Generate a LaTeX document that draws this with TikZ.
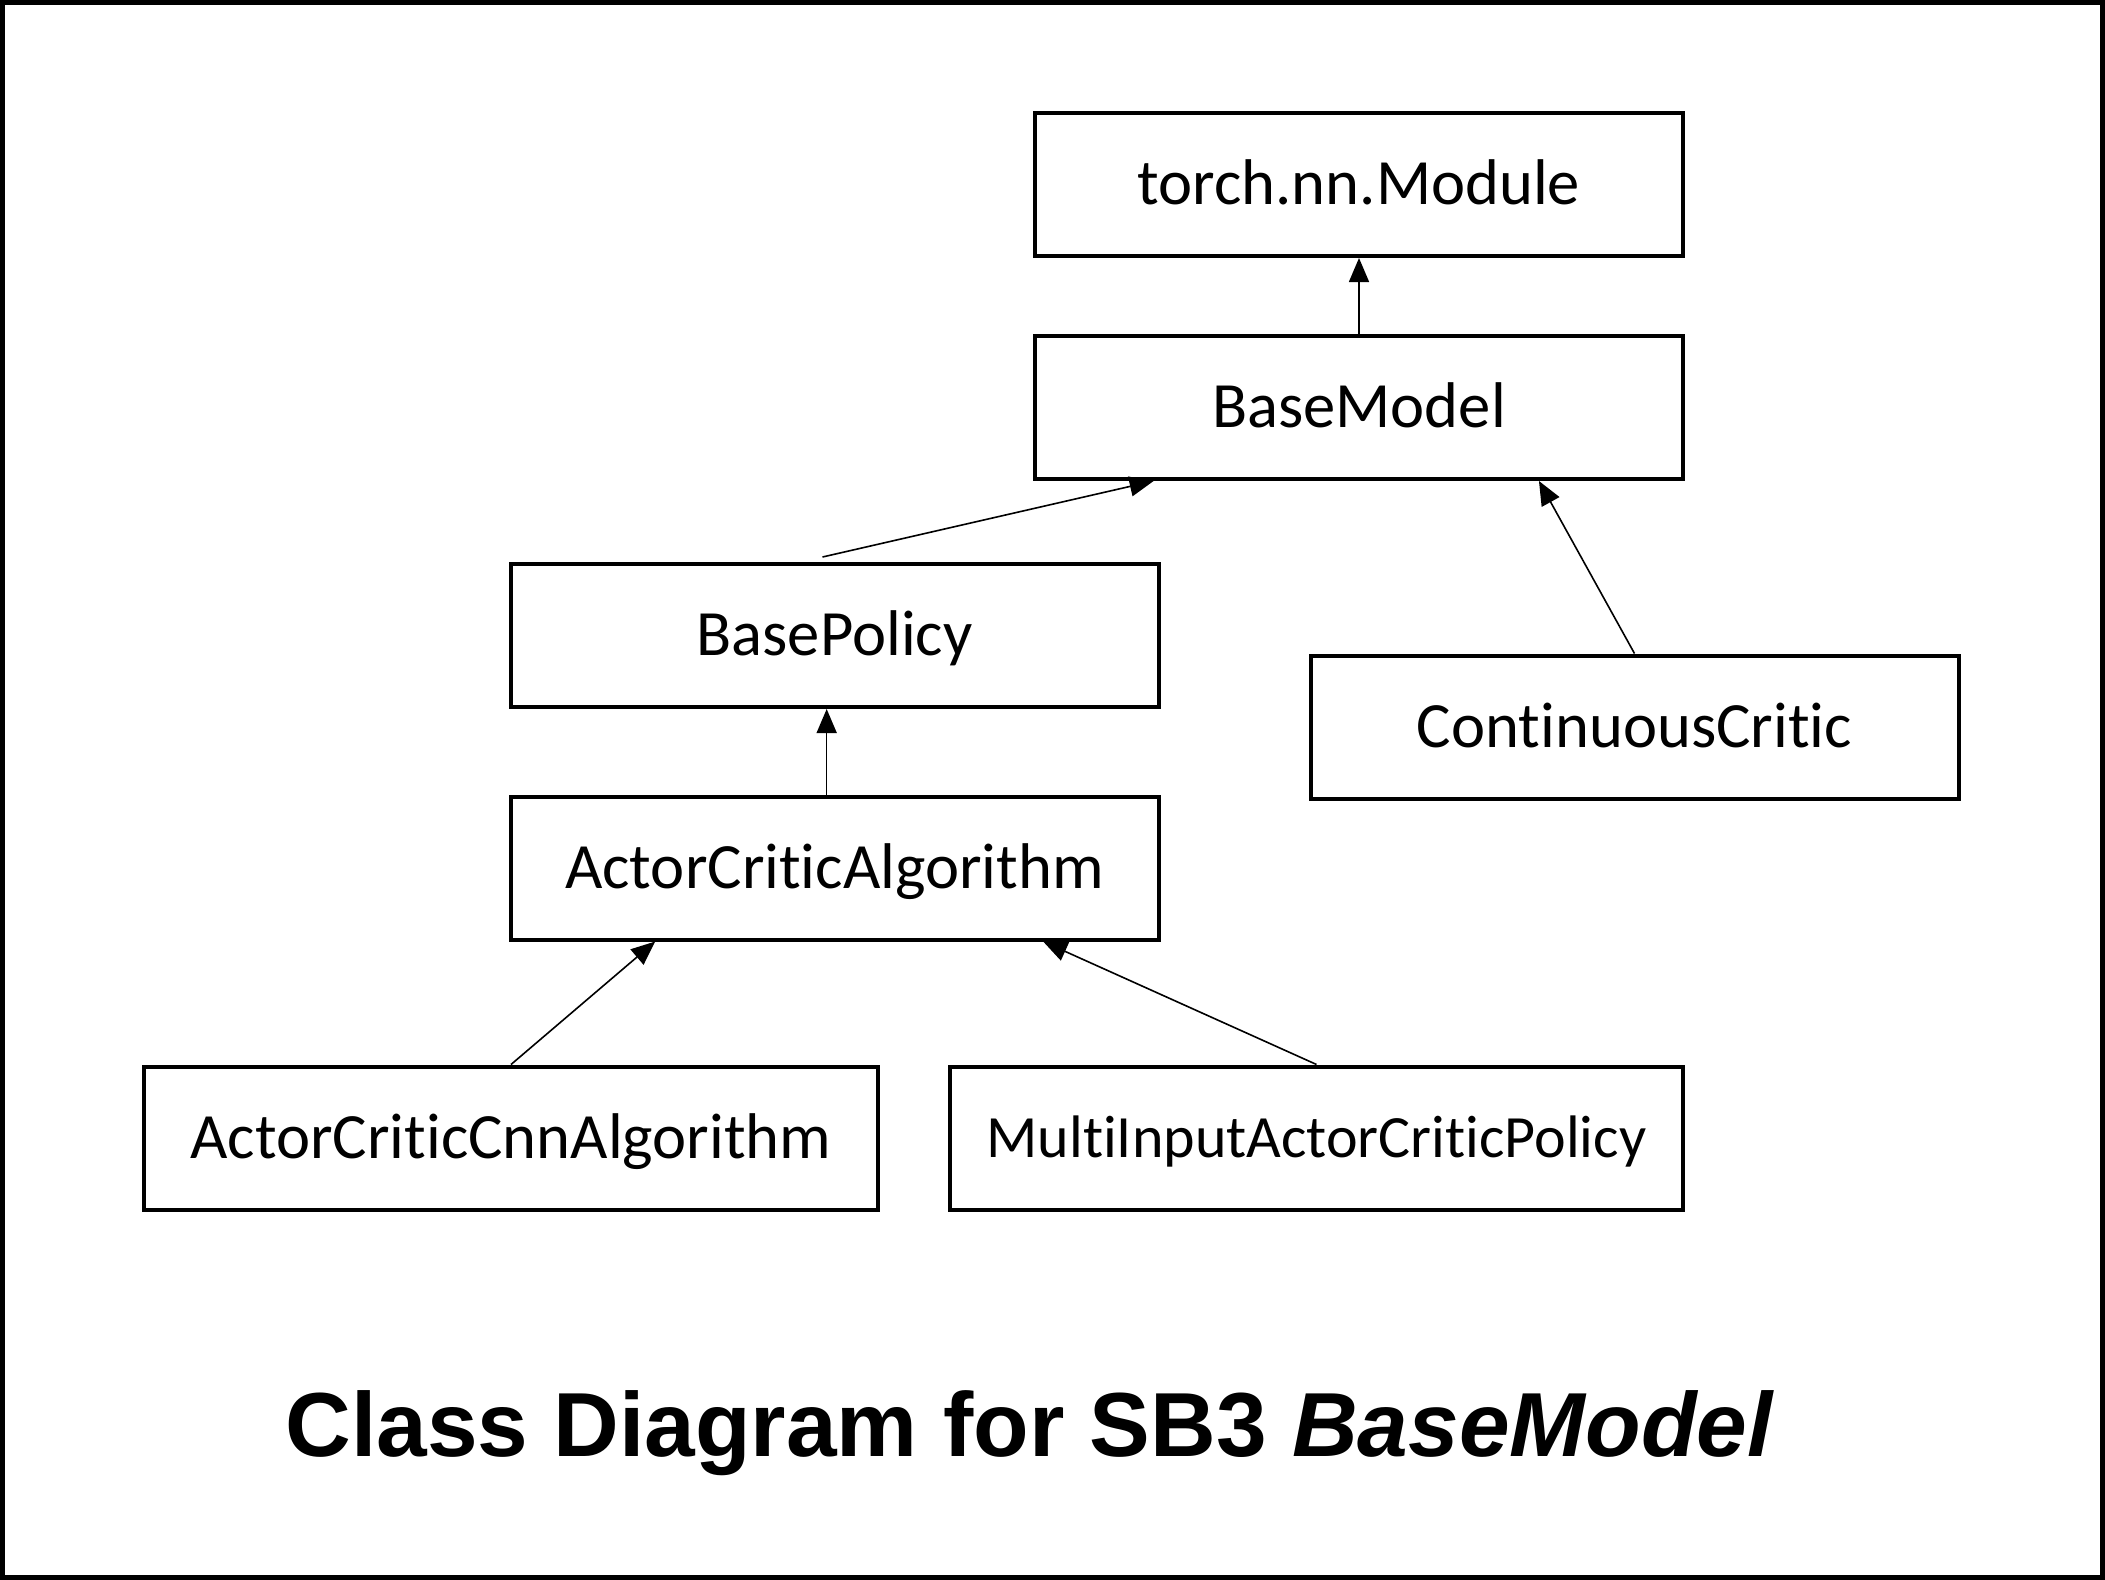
\documentclass[tikz,border=0pt]{standalone}
\usepackage{fontspec}
\setmainfont{Carlito}[RawFeature={-liga}]
\newfontfamily\titlefont{Liberation Sans}
\usetikzlibrary{arrows.meta,calc}
\tikzset{
  cls/.style={draw, line width=2pt, minimum width=324pt, minimum height=71.5pt, inner sep=0pt,
    text height=20.4pt, text depth=0pt, font=\fontsize{32.3}{38}\selectfont},
  inh/.style={line width=0.8pt, -{Triangle[length=12pt,width=10pt]}}
}
\begin{document}
\begin{tikzpicture}[x=0.5pt,y=-0.5pt]
\useasboundingbox (0,0) rectangle (2105,1580);
\draw[line width=2.5pt] (2.5,2.5) rectangle (2102.5,1577.5);
\node[cls] (torch) at (1359,184.5) {torch.nn.Module};
\node[cls] (bm) at (1359,407.5) {BaseModel};
\node[cls] (bp) at (834.5,635.5) {BasePolicy};
\node[cls] (cc) at (1634.5,727) {ContinuousCritic};
\node[cls] (aca) at (834.5,868) {ActorCriticAlgorithm};
\node[cls, minimum width=367pt] (acc) at (511,1138) {ActorCriticCnnAlgorithm};
\node[cls, minimum width=366.5pt, text height=19pt, font=\fontsize{30}{36}\selectfont] (mi) at (1316.5,1138) {MultiInputActorCriticPolicy};
\node[font=\titlefont\bfseries\fontsize{45.5}{52}\selectfont] (title) at (1030,1433)
  {Class Diagram for SB3 \textit{BaseModel}};
\draw[inh] (bm.north) -- (torch.south);
\draw[inh] ($(bp.north)+(-6pt,2.5pt)$) -- ($(bm.south west)!0.185!(bm.south east)$);
\draw[inh] (cc.north) -- ($(bm.south west)!0.776!(bm.south east)$);
\draw[inh] ($(aca.north west)!0.488!(aca.north east)$) -- ($(bp.south west)!0.488!(bp.south east)$);
\draw[inh] (acc.north) -- ($(aca.south west)!0.225!(aca.south east)$);
\draw[inh] (mi.north) -- ($(aca.south west)!0.82!(aca.south east)$);
\end{tikzpicture}
\end{document}
